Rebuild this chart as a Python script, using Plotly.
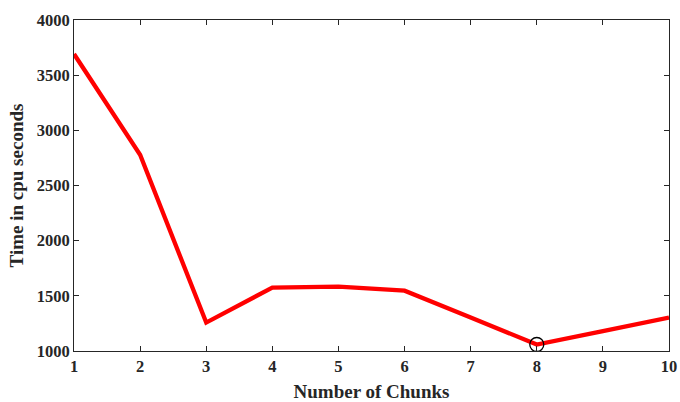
import plotly.graph_objects as go

chunks = [1, 2, 3, 4, 5, 6, 7, 8, 9, 10]
cpu_time = [3692, 2778, 1258, 1575, 1584, 1547, 1303, 1059, 1181, 1303]
best_x = [8]
best_y = [1059]
y_ticks = [1000, 1500, 2000, 2500, 3000, 3500, 4000]

FONT = "Liberation Serif"
AX = "#262626"

fig = go.Figure()
fig.add_trace(go.Scatter(x=chunks, y=cpu_time, mode="lines",
                         line=dict(color="#ff0000", width=4.3), showlegend=False))
fig.add_trace(go.Scatter(x=best_x, y=best_y, mode="markers",
                         marker=dict(symbol="circle-open", size=14, color="black",
                                     line=dict(width=1.3, color="black")),
                         showlegend=False))

axis_common = dict(showgrid=False, zeroline=False, ticks="inside", ticklen=5,
                   tickcolor=AX, linecolor=AX, linewidth=1, mirror="ticks",
                   showline=True, automargin=False,
                   tickfont=dict(family=FONT, size=16.5, color=AX, weight="bold"))

fig.update_xaxes(range=[1, 10], tickmode="array", tickvals=chunks,
                 ticktext=[str(c) for c in chunks],
                 title=dict(text="Number of Chunks",
                            font=dict(family=FONT, size=19, color=AX, weight="bold"),
                            standoff=11),
                 **axis_common)
fig.update_yaxes(range=[1000, 4000], tickmode="array", tickvals=y_ticks,
                 ticktext=[str(v) for v in y_ticks],
                 title=dict(text="Time in cpu seconds",
                            font=dict(family=FONT, size=19, color=AX, weight="bold"),
                            standoff=8),
                 **axis_common)

fig.update_layout(width=680, height=402, plot_bgcolor="white", paper_bgcolor="white",
                  margin=dict(l=74, r=11, t=20, b=51, autoexpand=False))
fig.write_html("out.html",
               config={"displayModeBar": False},
               post_script="document.body.style.margin='0';"
                           "document.body.style.overflow='hidden';")
